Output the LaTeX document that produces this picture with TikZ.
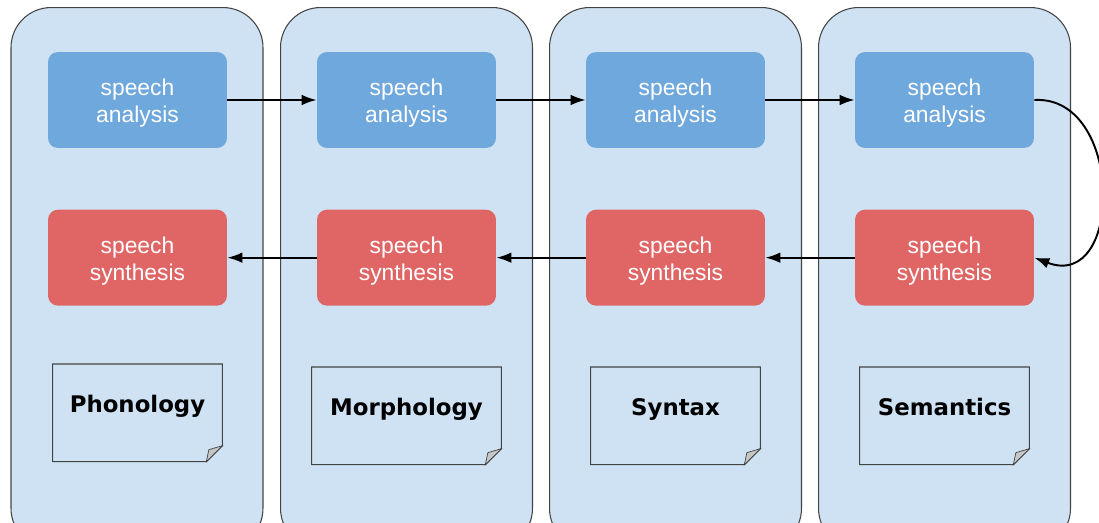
\documentclass[tikz,border=0pt]{standalone}
\usepackage{fontspec}
\setmainfont{Liberation Sans}
\newfontfamily\notefont{DejaVu Sans}
\usetikzlibrary{arrows.meta, positioning}

\definecolor{panelblue}{HTML}{CFE2F3}
\definecolor{anablue}{HTML}{6FA8DC}
\definecolor{synred}{HTML}{E06666}
\definecolor{edgegray}{HTML}{434343}

% two-line stage label, pushed down a little
\newcommand{\stagetext}[2]{\rule{0pt}{12.9pt}#1\\#2}

\begin{document}
\begin{tikzpicture}[x=0.02cm, y=-0.02cm,
            panel/.style={draw=edgegray, fill=panelblue, rounded corners=0.8cm, minimum width=5.04cm, minimum height=10.82cm, line width=0.6pt},
            stage/.style={rounded corners=0.2cm, minimum width=3.58cm, minimum height=1.92cm, text=white, align=center, font=\fontsize{13}{15.3}\selectfont},
            analysis/.style={stage, fill=anablue},
            synthesis/.style={stage, fill=synred},
            level/.style={minimum width=3.38cm, minimum height=1.94cm, text height=0.35cm, text depth=0.36cm, font=\notefont\bfseries\fontsize{13}{15}\selectfont},
            noteline/.style={draw=edgegray, line width=0.6pt},
            flow/.style={-{Latex[length=8.5pt,width=6pt]}, line width=1.1pt}]

            \useasboundingbox (0,0) rectangle (1099,523);
            \clip (0,0) rectangle (1099,523);

            % One panel per level, running past the bottom edge
            \node[panel] (p1) at (137,278) {};
            \node[panel] (p2) at (406.5,278) {};
            \node[panel] (p3) at (675.5,278) {};
            \node[panel] (p4) at (944.5,278) {};

            % Analysis row
            \node[analysis] (ana1) at (137.5,100) {\stagetext{speech}{analysis}};
            \node[analysis] (ana2) at (406.5,100) {\stagetext{speech}{analysis}};
            \node[analysis] (ana3) at (675.5,100) {\stagetext{speech}{analysis}};
            \node[analysis] (ana4) at (944.5,100) {\stagetext{speech}{analysis}};

            % Synthesis row below
            \node[synthesis, below=1.22cm of ana1] (syn1) {\stagetext{speech}{synthesis}};
            \node[synthesis, below=1.22cm of ana2] (syn2) {\stagetext{speech}{synthesis}};
            \node[synthesis, below=1.22cm of ana3] (syn3) {\stagetext{speech}{synthesis}};
            \node[synthesis, below=1.22cm of ana4] (syn4) {\stagetext{speech}{synthesis}};

            % Level notes
            \node[level, below=1.16cm of syn1] (phon) {Phonology};
            \node[level, minimum width=3.78cm, below=1.22cm of syn2] (morph) {Morphology};
            \node[level, below=1.22cm of syn3] (synt) {Syntax};
            \node[level, below=1.22cm of syn4] (sem) {Semantics};

            % dog-eared outline of each note
            \foreach \n in {phon, morph, synt, sem} {
                \draw[noteline] (\n.north west) -- (\n.north east) -- ([yshift=0.32cm]\n.south east)
                    -- ([xshift=-0.32cm]\n.south east) -- (\n.south west) -- cycle;
                \draw[noteline, fill=gray!45, line width=0.4pt] ([yshift=0.32cm]\n.south east)
                    -- ([xshift=-0.27cm, yshift=0.24cm]\n.south east) -- ([xshift=-0.32cm]\n.south east) -- cycle;
            }

            % Flow through the levels
            \draw[flow] (ana1) -- (ana2);
            \draw[flow] (ana2) -- (ana3);
            \draw[flow] (ana3) -- (ana4);
            \draw[flow] (ana4.east) .. controls (1124,95) and (1124,292) .. (syn4.east);
            \draw[flow] (syn4) -- (syn3);
            \draw[flow] (syn3) -- (syn2);
            \draw[flow] (syn2) -- (syn1);
        \end{tikzpicture}
\end{document}
